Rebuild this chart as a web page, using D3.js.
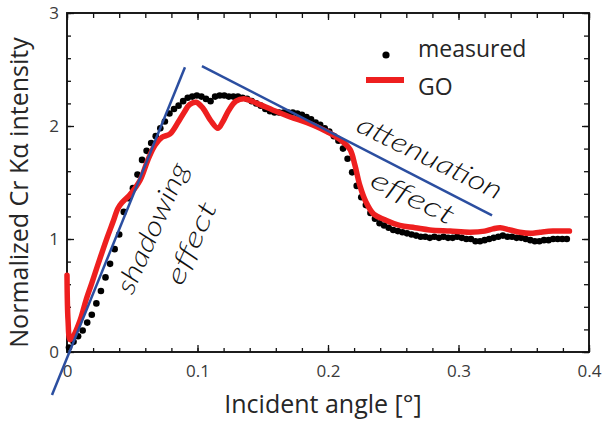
<!DOCTYPE html>
<html>
<head>
<meta charset="utf-8">
<script src="https://cdn.jsdelivr.net/npm/d3@7"></script>
<style>
  html, body { margin: 0; padding: 0; background: #fff; }
  svg { display: block; }
</style>
</head>
<body>
<svg id="chart" width="602" height="425"></svg>
<script>
// ---------- data ----------
const xTickValues = [0, 0.1, 0.2, 0.3, 0.4];
const xTickLabels = ["0", "0.1", "0.2", "0.3", "0.4"];
const yTickValues = [0, 1, 2, 3];
const yTickLabels = ["0", "1", "2", "3"];

const measuredAngle = [0.0015, 0.005, 0.0085, 0.012, 0.0155, 0.019, 0.0225, 0.026, 0.0295, 0.033,
  0.0365, 0.04, 0.0435, 0.047, 0.0505, 0.054, 0.0575, 0.061, 0.0645, 0.068,
  0.0715, 0.075, 0.0785, 0.082, 0.0855, 0.089, 0.0925, 0.096, 0.0995, 0.103,
  0.1065, 0.11, 0.1135, 0.117, 0.1205, 0.124, 0.1275, 0.131, 0.1345, 0.138,
  0.1415, 0.145, 0.1485, 0.152, 0.1555, 0.159, 0.1625, 0.166, 0.1695, 0.173,
  0.1765, 0.18, 0.1835, 0.187, 0.1905, 0.194, 0.1975, 0.201, 0.2045, 0.208,
  0.2115, 0.215, 0.2185, 0.222, 0.2255, 0.229, 0.2325, 0.236, 0.2395, 0.243,
  0.2465, 0.25, 0.2535, 0.257, 0.2605, 0.264, 0.2675, 0.271, 0.2745, 0.278,
  0.2815, 0.285, 0.2885, 0.292, 0.2955, 0.299, 0.3025, 0.306, 0.3095, 0.313,
  0.3165, 0.32, 0.3235, 0.327, 0.3305, 0.334, 0.3375, 0.341, 0.3445, 0.348,
  0.3515, 0.355, 0.3585, 0.362, 0.3655, 0.369, 0.3725, 0.376, 0.3795, 0.383];
const measuredValue = [0.04, 0.09, 0.14, 0.19, 0.26, 0.33, 0.43, 0.54, 0.66, 0.78,
  0.91, 1.04, 1.24, 1.36, 1.45, 1.57, 1.70, 1.78, 1.85, 1.91,
  1.98, 2.04, 2.11, 2.15, 2.18, 2.22, 2.25, 2.26, 2.27, 2.26,
  2.24, 2.22, 2.26, 2.27, 2.27, 2.26, 2.26, 2.26, 2.25, 2.24,
  2.22, 2.20, 2.18, 2.15, 2.13, 2.12, 2.12, 2.12, 2.12, 2.12,
  2.11, 2.10, 2.08, 2.06, 2.03, 2.01, 1.98, 1.95, 1.91, 1.87,
  1.80, 1.71, 1.59, 1.47, 1.37, 1.30, 1.23, 1.18, 1.14, 1.12,
  1.10, 1.08, 1.07, 1.06, 1.05, 1.04, 1.03, 1.02, 1.02, 1.01,
  1.02, 1.01, 1.02, 1.01, 1.01, 1.02, 1.01, 1.00, 1.00, 0.98,
  0.98, 0.99, 1.00, 1.01, 1.02, 1.03, 1.02, 1.02, 1.01, 1.01,
  1.00, 0.99, 0.98, 0.98, 0.99, 0.99, 1.00, 1.00, 1.00, 1.00];

const goAngle = [0, 0.0008, 0.0023, 0.0038, 0.010, 0.0146, 0.019, 0.023, 0.0268, 0.0307,
  0.0352, 0.039, 0.042, 0.048, 0.056, 0.062, 0.0674, 0.0728, 0.079, 0.085,
  0.0897, 0.094, 0.0989, 0.104, 0.110, 0.1157, 0.1195, 0.124, 0.1295, 0.1364,
  0.1456, 0.158, 0.171, 0.184, 0.194, 0.204, 0.2115, 0.217, 0.2207, 0.2245,
  0.229, 0.235, 0.2437, 0.255, 0.2667, 0.278, 0.2935, 0.309, 0.320, 0.3264,
  0.332, 0.3395, 0.347, 0.355, 0.3625, 0.3724, 0.385];
const goValue = [0.68, 0.28, 0.11, 0.12, 0.28, 0.46, 0.61, 0.75, 0.88, 1.01,
  1.15, 1.27, 1.32, 1.39, 1.52, 1.70, 1.83, 1.90, 1.93, 2.03,
  2.12, 2.19, 2.21, 2.16, 2.05, 1.98, 2.04, 2.14, 2.22, 2.24,
  2.20, 2.14, 2.08, 2.03, 1.98, 1.92, 1.86, 1.79, 1.65, 1.47,
  1.33, 1.22, 1.17, 1.12, 1.10, 1.08, 1.07, 1.06, 1.07, 1.09,
  1.10, 1.08, 1.06, 1.05, 1.06, 1.07, 1.07];

// guide lines (angle, value) endpoints
const shadowLineAngle = [-0.0115, 0.0904];
const shadowLineValue = [-0.38, 2.52];
const attenLineAngle = [0.1034, 0.3257];
const attenLineValue = [2.53, 1.21];

const seriesNames = ["measured", "GO"];
const xTitle = "Incident angle [°]";
const yTitle = "Normalized Cr Kα intensity";

// ---------- layout ----------
const svg = d3.select("#chart");
const mLeft = 67, mTop = 13, mRight = 589, mBottom = 352;
const x = d3.scaleLinear().domain([0, 0.4]).range([mLeft, mRight]);
const y = d3.scaleLinear().domain([0, 3]).range([mBottom, mTop]);
const FONT = "'Open Sans', 'DejaVu Sans', sans-serif";

const xMinor = d3.range(0, 0.4001, 0.02);
const yMinor = d3.range(0, 3.001, 0.2);

function styleAxis(g) {
  g.select(".domain").remove();
  g.selectAll(".tick line").attr("stroke", "#111").attr("stroke-width", 1.3);
  g.selectAll("text").attr("font-family", FONT).attr("fill", "#3a3a3a");
}

// minor ticks (all four sides)
svg.append("g").attr("transform", `translate(0,${mBottom})`)
  .call(d3.axisBottom(x).tickValues(xMinor).tickSize(-4).tickFormat(""))
  .call(styleAxis);
svg.append("g").attr("transform", `translate(0,${mTop})`)
  .call(d3.axisTop(x).tickValues(xMinor).tickSize(-5).tickFormat(""))
  .call(styleAxis);
svg.append("g").attr("transform", `translate(${mLeft},0)`)
  .call(d3.axisLeft(y).tickValues(yMinor).tickSize(-4).tickFormat(""))
  .call(styleAxis);
svg.append("g").attr("transform", `translate(${mRight},0)`)
  .call(d3.axisRight(y).tickValues(yMinor).tickSize(-5).tickFormat(""))
  .call(styleAxis);

// major ticks with labels
svg.append("g").attr("transform", `translate(0,${mBottom})`)
  .call(d3.axisBottom(x).tickValues(xTickValues).tickSize(-7).tickPadding(13)
    .tickFormat((d, i) => xTickLabels[i]))
  .call(styleAxis)
  .call(g => g.selectAll("text").attr("font-size", 17));
svg.append("g").attr("transform", `translate(0,${mTop})`)
  .call(d3.axisTop(x).tickValues(xTickValues).tickSize(-7).tickFormat(""))
  .call(styleAxis);
svg.append("g").attr("transform", `translate(${mLeft},0)`)
  .call(d3.axisLeft(y).tickValues(yTickValues).tickSize(-7).tickPadding(8)
    .tickFormat((d, i) => yTickLabels[i]))
  .call(styleAxis)
  .call(g => g.selectAll("text").attr("font-size", 17));
svg.append("g").attr("transform", `translate(${mRight},0)`)
  .call(d3.axisRight(y).tickValues(yTickValues).tickSize(-7).tickFormat(""))
  .call(styleAxis);

// frame
svg.append("rect")
  .attr("x", mLeft).attr("y", mTop)
  .attr("width", mRight - mLeft).attr("height", mBottom - mTop)
  .attr("fill", "none").attr("stroke", "#111").attr("stroke-width", 1.9);

// axis titles
svg.append("text")
  .attr("x", (mLeft + mRight) / 2 - 5).attr("y", 413)
  .attr("text-anchor", "middle")
  .attr("font-family", FONT).attr("font-size", 25).attr("fill", "#262626")
  .text(xTitle);
svg.append("text")
  .attr("transform", `translate(28,${(mTop + mBottom) / 2 + 10}) rotate(-90)`)
  .attr("text-anchor", "middle")
  .attr("font-family", FONT).attr("font-size", 25).attr("fill", "#262626")
  .text(yTitle);

// measured dots
const measured = measuredAngle.map((a, i) => ({ a, v: measuredValue[i] }));
svg.append("g").selectAll("circle").data(measured).join("circle")
  .attr("cx", d => x(d.a)).attr("cy", d => y(d.v)).attr("r", 3.3)
  .attr("fill", "#000");

// GO line
const go = goAngle.map((a, i) => ({ a, v: goValue[i] }));
svg.append("path").datum(go)
  .attr("d", d3.line().x(d => x(d.a)).y(d => y(d.v)).curve(d3.curveCatmullRom.alpha(0.5)))
  .attr("fill", "none").attr("stroke", "#ee1f1f").attr("stroke-width", 5.5)
  .attr("stroke-linejoin", "round").attr("stroke-linecap", "round");

// guide lines
const blue = "#2b4ea0";
[[shadowLineAngle, shadowLineValue], [attenLineAngle, attenLineValue]].forEach(([as, vs]) => {
  svg.append("line")
    .attr("x1", x(as[0])).attr("y1", y(vs[0]))
    .attr("x2", x(as[1])).attr("y2", y(vs[1]))
    .attr("stroke", blue).attr("stroke-width", 2.5);
});

// handwritten annotations
const HAND = "Lato, 'DejaVu Sans', sans-serif";
function note(txt, px, py, angle, len, size) {
  svg.append("text")
    .attr("transform", `translate(${px},${py}) rotate(${angle})`)
    .attr("text-anchor", "middle").attr("dy", "0.35em")
    .attr("font-family", HAND).attr("font-style", "italic").attr("font-weight", 300)
    .attr("font-size", size).attr("fill", "#111")
    .attr("textLength", len).attr("lengthAdjust", "spacingAndGlyphs")
    .text(txt);
}
note("shadowing", 152, 228, -66, 140, 27);
note("effect", 191, 243, -66, 88, 27);
note("attenuation", 430, 157, 26, 158, 27);
note("effect", 413, 197, 26, 90, 27);

// legend
svg.append("circle").attr("cx", 386).attr("cy", 55).attr("r", 3.6).attr("fill", "#000");
svg.append("line").attr("x1", 366).attr("x2", 404).attr("y1", 80).attr("y2", 80)
  .attr("stroke", "#ee1f1f").attr("stroke-width", 6);
svg.append("text").attr("x", 418).attr("y", 57)
  .attr("font-family", FONT).attr("font-size", 23).attr("fill", "#262626")
  .text(seriesNames[0]);
svg.append("text").attr("x", 418).attr("y", 95)
  .attr("font-family", FONT).attr("font-size", 23).attr("fill", "#262626")
  .text(seriesNames[1]);
</script>
</body>
</html>
